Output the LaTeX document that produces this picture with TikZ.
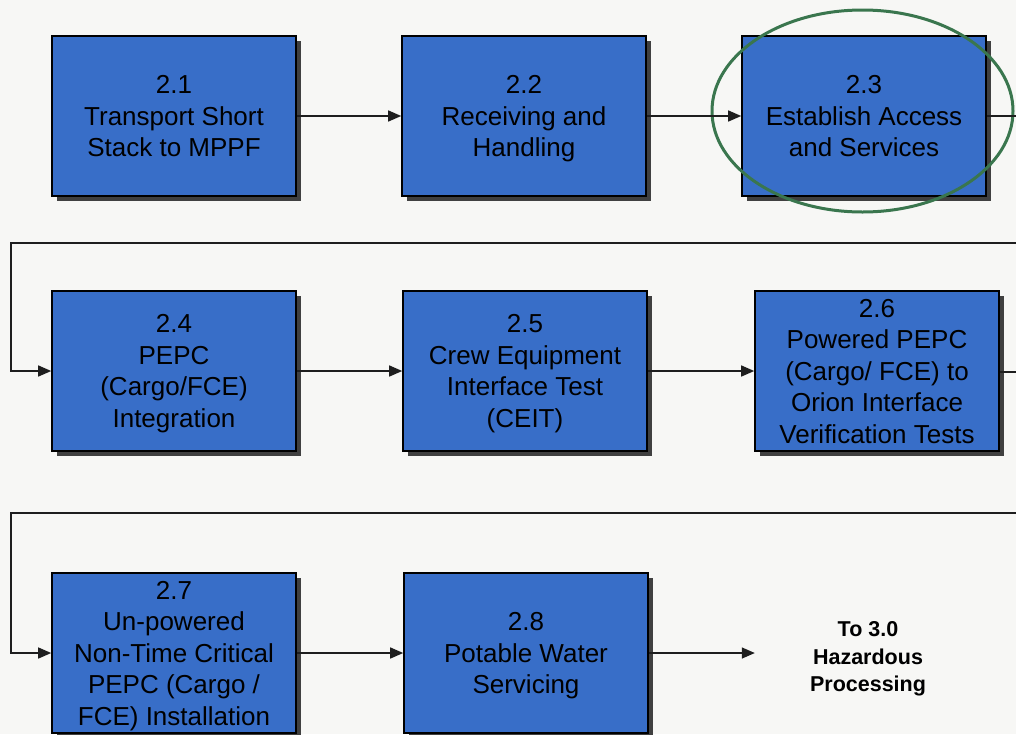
\documentclass[tikz,border=0pt]{standalone}
\usepackage{fontspec}
\setmainfont{Liberation Sans}
\usetikzlibrary{arrows.meta,shadows,positioning}
\definecolor{boxblue}{RGB}{56,110,200}
\definecolor{ringgreen}{RGB}{58,118,78}
\definecolor{bg}{RGB}{247,247,245}
\definecolor{linegray}{RGB}{30,30,30}
\begin{document}
\begin{tikzpicture}[x=1pt,y=-1pt,
  stepbox/.style={draw=black, line width=1.6pt, fill=boxblue,
    minimum width=244pt, minimum height=160pt, inner sep=0pt, align=center,
    text depth=0pt,
    font=\fontsize{26}{31.5}\selectfont,
    drop shadow={shadow xshift=4.5pt, shadow yshift=-4.5pt, fill=black!75, opacity=1}},
  flow/.style={draw=linegray, line width=1.4pt, -{Triangle[length=13pt,width=11pt]}},
  plain/.style={draw=linegray, line width=1.4pt},
  endtext/.style={align=center, font=\fontsize{21.5}{27.5}\selectfont\bfseries,
    minimum width=226pt, inner sep=0pt}]
\useasboundingbox (0,0) rectangle (1016,734);
\clip (0,0) rectangle (1016,734);
\fill[bg] (0,0) rectangle (1016,734);

% row 1
\node[stepbox] (b21) at (174,116) {2.1\\Transport Short\\Stack to MPPF};
\node[stepbox] (b22) at (524,116) {2.2\\Receiving and\\Handling};
\node[stepbox] (b23) at (864,116) {2.3\\Establish Access\\and Services};
% row 2
\node[stepbox] (b24) at (174,371) {2.4\\PEPC\\(Cargo/FCE)\\Integration};
\node[stepbox] (b25) at (525,371) {2.5\\Crew Equipment\\Interface Test\\(CEIT)};
\node[stepbox] (b26) at (877,371) {2.6\\Powered PEPC\\(Cargo/ FCE) to\\Orion Interface\\Verification Tests};
% row 3
\node[stepbox] (b27) at (174,653) {2.7\\Un-powered\\Non-Time Critical\\PEPC (Cargo /\\FCE) Installation};
\node[stepbox] (b28) at (526,653) {2.8\\Potable Water\\Servicing};
\node[endtext] (t30) at (868,659) {To 3.0\\Hazardous\\Processing};

% ring around 2.3
\draw[ringgreen, line width=3pt] (862.5,111) ellipse [x radius=150.5pt, y radius=101pt];

% coordinates for wrap-around lines
\coordinate (o1) at (1016,116);
\coordinate (e1) at (1016,243);
\coordinate (w1) at (11,243);
\coordinate (o2) at (1016,372);
\coordinate (e2) at (1016,513);
\coordinate (w2) at (11,513);

% connectors
\draw[flow] (b21) -- (b22);
\draw[flow] (b22) -- (b23);
\draw[plain] (b23) -- (o1);
\draw[flow] (e1) -- (w1) |- (b24.west);
\draw[flow] (b24) -- (b25);
\draw[flow] (b25.east) -- (b25.east -| b26.west);
\draw[plain] (b26.east |- o2) -- (o2);
\draw[flow] (e2) -- (w2) |- (b27.west);
\draw[flow] (b27) -- (b28);
\draw[flow] (b28.east) -- (b28.east -| t30.west);
\end{tikzpicture}
\end{document}
